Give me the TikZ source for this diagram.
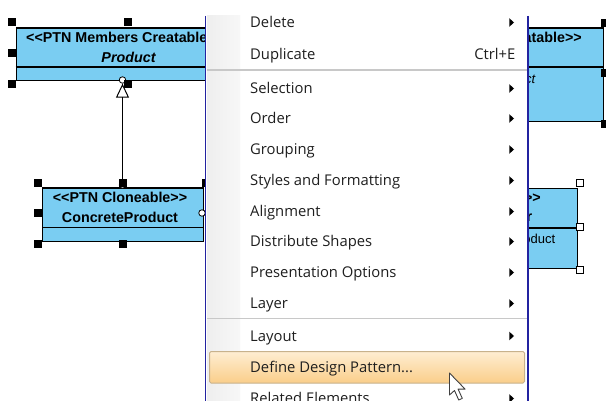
\documentclass[tikz,border=0pt]{standalone}
\usepackage{fontspec}
\newfontfamily\menufont{Open Sans}
\newfontfamily\umlfont{Liberation Sans}
\usetikzlibrary{arrows.meta}
\definecolor{clsfill}{RGB}{122,205,242}
\definecolor{menublue}{RGB}{35,35,160}
\definecolor{menutext}{RGB}{30,30,30}
\definecolor{sepgray}{RGB}{200,200,200}
\definecolor{stripgray}{RGB}{238,238,238}
\definecolor{hlTop}{RGB}{254,238,210}
\definecolor{hlBot}{RGB}{250,206,138}
\definecolor{hlBorder}{RGB}{200,178,140}
\tikzset{
  clsbox/.style={draw=black, line width=1.2pt, fill=clsfill, inner sep=0pt, anchor=north west},
  umlb/.style={font=\umlfont\bfseries\fontsize{14.3}{16}\selectfont, inner sep=0pt},
  umlbi/.style={font=\umlfont\bfseries\itshape\fontsize{14.3}{16}\selectfont, inner sep=0pt},
  umli/.style={font=\umlfont\itshape\fontsize{13}{15}\selectfont, inner sep=0pt},
  umlr/.style={font=\umlfont\fontsize{13}{15}\selectfont, inner sep=0pt},
  hdl/.style={draw=black, fill=black, minimum size=7pt, inner sep=0pt},
  hdlopen/.style={draw=black, fill=white, line width=0.8pt, minimum size=6.5pt, inner sep=0pt},
  port/.style={circle, draw=black, fill=white, line width=0.8pt, minimum size=6.5pt, inner sep=0pt},
  item/.style={font=\menufont\fontsize{14.8}{17}\selectfont, text=menutext, inner sep=0pt, anchor=base west},
  subarrow/.style={fill=black}
}
\begin{document}
\begin{tikzpicture}[x=1pt,y=-1pt]
\useasboundingbox (0,0) rectangle (606,401);
\clip (0,0) rectangle (606,401);
\fill[white] (0,0) rectangle (606,401);

% ---------- top-left class: Product ----------
\node[clsbox, minimum width=225.5pt, minimum height=52.5pt] (prod) at (15.5,27.5) {};
\draw[line width=1.2pt] (15.5,67) -- (241,67);
\node[umlb, anchor=west] (prodst) at (26,37.5) {<<PTN Members Creatable>>};
\node[umlbi] (prodname) at (128.5,57) {Product};

% ---------- lower-left class: ConcreteProduct ----------
\node[clsbox, minimum width=161pt, minimum height=53.5pt] (cprod) at (42,187.5) {};
\draw[line width=1.2pt] (42,227.5) -- (203,227.5);
\node[umlb] (cprodst) at (120,197.5) {<<PTN Cloneable>>};
\node[umlb] (cprodname) at (120,217.5) {ConcreteProduct};

% ports and generalization
\node[port] (pp) at (122.5,80) {};
\node[port] (cp) at (122.5,185) {};
\node[port] (cpr) at (202,213) {};
\draw[line width=1pt, -{Triangle[open, length=14pt, width=13pt, line width=1pt]}] (cp) -- (pp);

% selection handles (left)
\node[hdl] (h1) at (11.5,22) {};
\node[hdl] (h2) at (128,22) {};
\node[hdl] (h3) at (11.5,53) {};
\node[hdl] (h4) at (11.5,83.5) {};
\node[hdl] (h5) at (128,83.5) {};
\node[hdl] (h6) at (38,183) {};
\node[hdl] (h7) at (122.5,183) {};
\node[hdl] (h8) at (38,213) {};
\node[hdl] (h9) at (38,244) {};
\node[hdl] (h10) at (122.5,244) {};
\node[hdl] (h11) at (206,183) {};

% ---------- top-right class ----------
\node[clsbox, minimum width=183pt, minimum height=93.5pt] (rprod) at (420,27.5) {};
\draw[line width=1.2pt] (420,67) -- (603,67);
\node[umlb, anchor=east] (rprodst) at (582,37.5) {<<PTN Members Creatable>>};
\node[umli, anchor=east] (rprodop) at (535.5,80) {+clone() : Product};
\node[hdl] (h12) at (605,22.5) {};
\node[hdl] (h13) at (605,72.5) {};
\node[hdl] (h14) at (605,124) {};

% ---------- lower-right class ----------
\node[clsbox, minimum width=137pt, minimum height=80pt] (rcre) at (440,188) {};
\draw[line width=1.2pt] (440,228) -- (577,228);
\node[umlb, anchor=east] (rcrest) at (541,197) {<<PTN Cloneable>>};
\node[umlb, anchor=east] (rcrename) at (532.5,217) {ConcreteCreator};
\node[umlr, anchor=east] (rcreop) at (555.5,240) {+create() : Product};
\node[hdlopen] (h15) at (580,183) {};
\node[hdlopen] (h16) at (580,227) {};
\node[hdlopen] (h17) at (580,270) {};

% ---------- context menu ----------
\fill[white] (205,16) rectangle (528,402);
\shade[left color=stripgray, right color=white!97!black] (207,16) rectangle (240,402);
\draw[menublue, line width=1.3pt] (205.3,16) -- (205.3,402);
\draw[menublue, line width=1.3pt] (528,16) -- (528,402);
\draw[sepgray, line width=1.6pt] (207,70) -- (527,70);
\draw[sepgray, line width=1.6pt] (207,318.5) -- (527,318.5);

% highlighted item
\shade[top color=hlTop, bottom color=hlBot, draw=hlBorder, line width=1pt, rounded corners=1.5pt] (209.5,351.5) rectangle (524.5,383);

\node[item] (m1) at (250,28) {Delete};
\node[item] (m2) at (250,59.5) {Duplicate};
\node[item, anchor=base east] (m2k) at (515.5,59.5) {Ctrl+E};
\node[item] (m3) at (250,93.5) {Selection};
\node[item] (m4) at (250,123.5) {Order};
\node[item] (m5) at (250,154.5) {Grouping};
\node[item] (m6) at (250,185.5) {Styles and Formatting};
\node[item] (m7) at (250,216.5) {Alignment};
\node[item] (m8) at (250,246.5) {Distribute Shapes};
\node[item] (m9) at (250,277.5) {Presentation Options};
\node[item] (m10) at (250,308.5) {Layer};
\node[item] (m11) at (250,341.5) {Layout};
\node[item] (m12) at (250,372.5) {Define Design Pattern...};
\node[item] (m13) at (250,403.5) {Related Elements};

\foreach \yy in {22.5,88.5,118.5,149.5,180.5,211.5,241.5,272.5,303.5,336,398.5}{
  \fill[subarrow] (509.3,\yy-4.3) -- (514,\yy) -- (509.3,\yy+4.3) -- cycle;
}

% mouse pointer
\coordinate (tip) at (449.5,373);
\draw[black!75, fill=white, line width=0.9pt, line join=round]
  (tip) -- ++(0,22) -- ++(5,-4.5) -- ++(4.2,9.5) -- ++(3.6,-1.6) -- ++(-4.2,-9.3) -- ++(7,0) -- cycle;
\end{tikzpicture}
\end{document}
